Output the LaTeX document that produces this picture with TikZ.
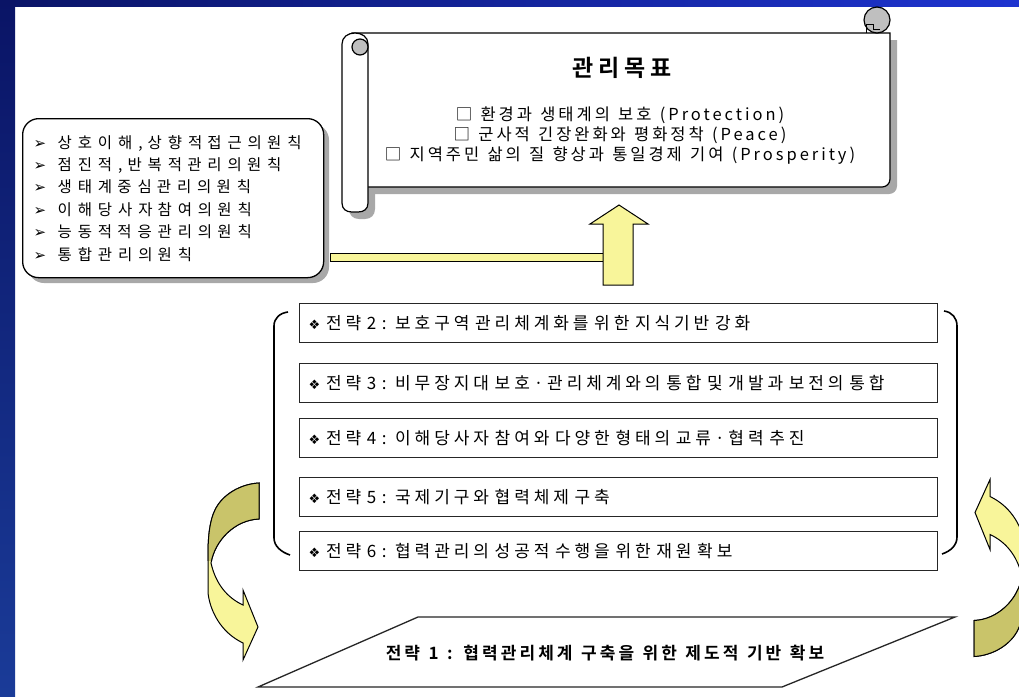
\documentclass[tikz,border=0pt]{standalone}
\usepackage{fontspec}
\setmainfont{Noto Sans CJK KR}
\newfontfamily\kgoal[LetterSpace=18,BoldFont={Noto Sans CJK KR Bold}]{Noto Sans CJK KR}
\newfontfamily\kbox[LetterSpace=23,BoldFont={Noto Sans CJK KR Bold}]{Noto Sans CJK KR}
\newfontfamily\kleft[LetterSpace=38,BoldFont={Noto Sans CJK KR Bold}]{Noto Sans CJK KR}
\newfontfamily\ktitle[LetterSpace=20,BoldFont={Noto Sans CJK KR Bold}]{Noto Sans CJK KR}
\newfontfamily\kbot[LetterSpace=18,BoldFont={Noto Sans CJK KR Bold}]{Noto Sans CJK KR}
\newfontfamily\djv{DejaVu Sans}
\newcommand{\wsp}{\spaceskip=0.5em\relax}
\newcommand{\fgoal}{\kgoal\fontsize{16.5}{20}\selectfont\wsp}
\newcommand{\fsbox}{\kbox\fontsize{17}{19}\selectfont\wsp}
\newcommand{\fleft}{\kleft\fontsize{15.5}{22.4}\selectfont\wsp}
\newcommand{\ftitle}{\ktitle\fontsize{23}{23}\selectfont\bfseries}
\newcommand{\fbot}{\kbot\fontsize{17}{19}\selectfont\bfseries\wsp}
\definecolor{navy}{HTML}{0A1466}
\definecolor{royal}{HTML}{1E34D0}
\definecolor{lowblue}{HTML}{1A3B98}
\definecolor{lyel}{HTML}{F8F59A}
\definecolor{dyel}{HTML}{C9C46A}
\definecolor{shad}{HTML}{A8A8A8}
\tikzset{
  outl/.style={draw=black, line width=1.2pt},
  sbox/.style={draw=black!85, line width=1.4pt, fill=white, anchor=north west,
    minimum height=39pt, text width=620pt, inner xsep=9pt, inner ysep=0pt, align=left,
    font=\fsbox},
  brack/.style={draw=black, line width=1.6pt},
  yarrow/.style={draw=black, line width=1pt, fill=lyel},
  darrow/.style={draw=black, line width=1pt, fill=dyel},
}
\newcommand{\dia}{{\djv\fontsize{13}{14}\selectfont ❖}}
\newcommand{\arr}{\makebox[24pt][l]{\djv\fontsize{15}{15}\selectfont ➢}}
\newcommand{\curvedarrow}[1]{%
  \path[#1] (259,483) .. controls (240,484) and (222,495) .. (215,510) .. controls (210,520) and (208,535) .. (208,555) -- (208,593) .. controls (210,610) and (220,632) .. (243,643) -- (243,660) -- (258,627) -- (243,590) -- (243,605) .. controls (228,598) and (216,585) .. (211,563) .. controls (215,540) and (235,520) .. (259,519) -- cycle;}
\begin{document}
\begin{tikzpicture}[x=1pt,y=-1pt]
\useasboundingbox (0,0) rectangle (1019,696);
% frame
\fill[white] (0,0) rectangle (1019,696);
\shade[left color=navy, right color=royal] (0,0) rectangle (1019,6);
\shade[top color=navy, bottom color=lowblue] (0,0) rectangle (15,696);

% ---------- scroll ----------
\fill[shad] (359,40) -- (897,40) -- (897,186) .. controls (897,191) and (893,194) .. (889,194) -- (359,194) -- cycle;
\fill[shad] (349,50) -- (349,209) .. controls (349,215) and (353,219) .. (359,219) -- (365,219) .. controls (371,219) and (375,215) .. (375,209) -- (375,50) -- cycle;
\path[outl, fill=white] (352,33) -- (890,33) -- (890,179) .. controls (890,184) and (886,187) .. (882,187) -- (352,187) -- cycle;
\path[outl, fill=black!25] (877,20) circle[radius=13];
\draw[black, line width=1pt] (866,33) -- (866,24) -- (873,24) -- (873,29) -- (880,29);
\path[outl, fill=white] (342,44) -- (342,203) .. controls (342,209) and (346,212) .. (352,212) -- (358,212) .. controls (364,212) and (368,209) .. (368,203) -- (368,44) .. controls (368,37) and (362,33) .. (355,33) .. controls (348,33) and (342,37) .. (342,44) -- cycle;
\path[outl, fill=black!25] (360,47) circle[radius=8];

\node[font=\ftitle] (title) at (622,68) {관리목표};
\node[font=\fgoal, align=center] (goals) at (620,136)
  {□ 환경과 생태계의 보호 (Protection)\\
   □ 군사적 긴장완화와 평화정착 (Peace)\\
   □ 지역주민 삶의 질 향상과 통일경제 기여 (Prosperity)};

% ---------- principles box ----------
\fill[shad, rounded corners=16pt] (28,124) rectangle (329,283);
\node[draw=black, line width=1.3pt, rounded corners=16pt, fill=white, anchor=north west,
  minimum width=301pt, minimum height=159pt, text width=279pt, inner xsep=11pt, align=left,
  font=\fleft] (principles) at (22,118)
  {\arr 상호이해, 상향적 접근의 원칙\\
   \arr 점진적, 반복적 관리의 원칙\\
   \arr 생태계 중심 관리의 원칙\\
   \arr 이해당사자 참여의 원칙\\
   \arr 능동적 적응관리의 원칙\\
   \arr 통합관리의 원칙};

% ---------- connector bar + up arrow ----------
\coordinate (barL) at (330,253);
\coordinate (shaftB) at (603,285);
\path[yarrow] (barL) rectangle (603,261);
\path[yarrow] (shaftB) -- (603,224) -- (590,224) -- (619,205) -- (648,224) -- (633,224) -- (633,285) -- cycle;

% ---------- strategy boxes ----------
\node[sbox] (s2) at (299,303) {\dia\ 전략 2 : 보호구역 관리체계화를 위한 지식기반 강화};
\node[sbox] (s3) at (299,363) {\dia\ 전략 3 : 비무장지대 보호·관리체계와의 통합 및 개발과 보전의 통합};
\node[sbox] (s4) at (299,418) {\dia\ 전략 4 : 이해당사자 참여와 다양한 형태의 교류·협력 추진};
\node[sbox] (s5) at (299,477) {\dia\ 전략 5 : 국제기구와 협력체제 구축};
\node[sbox] (s6) at (299,531) {\dia\ 전략 6 : 협력관리의 성공적 수행을 위한 재원 확보};

% brackets
\draw[brack] (288,312) .. controls (280,313) and (274,318) .. (274,326) -- (274,538) .. controls (274,546) and (281,552) .. (290,555);
\draw[brack] (944,311) .. controls (952,312) and (957,318) .. (957,326) -- (957,537) .. controls (957,545) and (951,551) .. (942,554);

% ---------- strategy 1 parallelogram ----------
\path[draw=black!85, line width=1.3pt, fill=white] (258,687) -- (418,617) -- (955,617) -- (782,687) -- cycle;
\node[font=\fbot] (s1) at (605,653) {전략 1 : 협력관리체계 구축을 위한 제도적 기반 확보};

% ---------- curved arrows ----------
\curvedarrow{yarrow}
\begin{scope}
  \clip (0,0) rectangle (1019,560);
  \curvedarrow{darrow}
\end{scope}
\begin{scope}[rotate around={180:(616.5,569.75)}]
  \curvedarrow{yarrow}
  \begin{scope}
    \clip (0,0) rectangle (1019,560);
    \curvedarrow{darrow}
  \end{scope}
\end{scope}
\end{tikzpicture}
\end{document}
